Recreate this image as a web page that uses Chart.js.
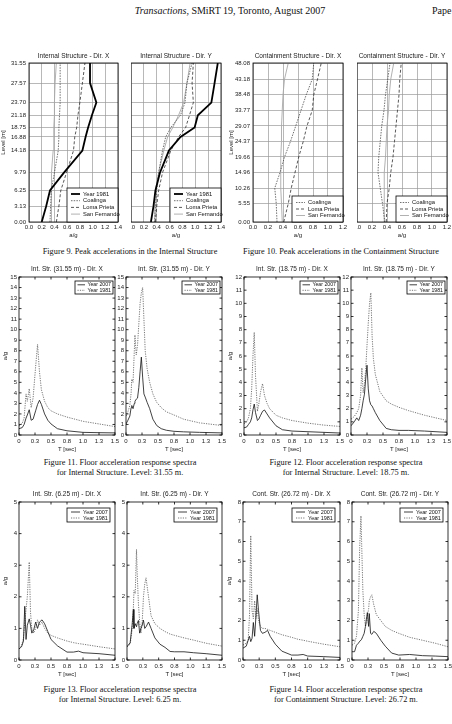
<!DOCTYPE html>
<html>
<head>
<meta charset="utf-8">
<script src="https://cdn.jsdelivr.net/npm/chart.js@4.4.1/dist/chart.umd.min.js"></script>
<style>
  html, body { margin: 0; padding: 0; background: #fff; }
  #page { position: relative; width: 452px; height: 724px; overflow: hidden; font-family: 'Liberation Serif', 'Times New Roman', serif; color: #111; }
  #page canvas { position: absolute; }
  .head { position: absolute; top: 5px; font-size: 10px; line-height: 12px; white-space: nowrap; }
  .cap { position: absolute; transform: translateX(-50%); text-align: center; font-size: 8.3px; line-height: 10px; white-space: nowrap; }
</style>
</head>
<body>
<div id="page">
  <div class="head" style="left:230px; transform:translateX(-50%);"><i>Transactions</i>, SMiRT 19, Toronto, August 2007</div>
  <div class="head" style="left:432px;">Pape</div>

  <canvas id="f9a"></canvas><canvas id="f9b"></canvas>
  <canvas id="f10a"></canvas><canvas id="f10b"></canvas>
  <div class="cap" style="left:130px; top:247px;">Figure 9. Peak accelerations in the Internal Structure</div>
  <div class="cap" style="left:341px; top:247px;">Figure 10. Peak accelerations in the Containment Structure</div>

  <canvas id="f11a"></canvas><canvas id="f11b"></canvas>
  <canvas id="f12a"></canvas><canvas id="f12b"></canvas>
  <div class="cap" style="left:120px; top:458px;">Figure 11. Floor acceleration response spectra<br>for Internal Structure. Level: 31.55 m.</div>
  <div class="cap" style="left:346px; top:458px;">Figure 12. Floor acceleration response spectra<br>for Internal Structure. Level: 18.75 m.</div>

  <canvas id="f13a"></canvas><canvas id="f13b"></canvas>
  <canvas id="f14a"></canvas><canvas id="f14b"></canvas>
  <div class="cap" style="left:120px; top:685px;">Figure 13. Floor acceleration response spectra<br>for Internal Structure. Level: 6.25 m.</div>
  <div class="cap" style="left:346px; top:685px;">Figure 14. Floor acceleration response spectra<br>for Containment Structure. Level: 26.72 m.</div>
</div>
<script>
// ---- Fig 9 / 10: peak accelerations along the height ----
var levelsInt = [0.00, 3.13, 6.25, 9.79, 14.18, 16.88, 18.75, 21.18, 23.70, 27.57, 31.55];
var levelsCont = [0.00, 5.55, 10.26, 14.96, 19.66, 24.37, 29.07, 33.77, 38.48, 43.18, 48.08];

var intX1981 = [0.20, 0.27, 0.33, 0.55, 0.84, 0.89, 0.93, 0.99, 1.06, 0.96, 0.96];
var intXCoalinga = [0.33, 0.34, 0.35, 0.40, 0.46, 0.47, 0.47, 0.48, 0.49, 0.49, 0.49];
var intXLoma = [0.43, 0.47, 0.50, 0.59, 0.70, 0.72, 0.75, 0.77, 0.80, 0.84, 0.88];
var intXSanFer = [0.35, 0.35, 0.35, 0.36, 0.38, 0.39, 0.39, 0.40, 0.40, 0.41, 0.43];

var intY1981 = [0.31, 0.35, 0.38, 0.45, 0.59, 0.77, 0.99, 1.04, 1.25, 1.30, 1.35];
var intYCoalinga = [0.37, 0.38, 0.40, 0.43, 0.49, 0.54, 0.62, 0.77, 0.84, 0.87, 0.95];
var intYLoma = [0.38, 0.40, 0.43, 0.49, 0.62, 0.74, 0.85, 0.91, 0.97, 0.95, 0.97];
var intYSanFer = [0.36, 0.37, 0.38, 0.43, 0.51, 0.57, 0.65, 0.74, 0.82, 0.87, 0.92];

var contXCoalinga = [0.32, 0.31, 0.29, 0.36, 0.42, 0.50, 0.57, 0.64, 0.71, 0.79, 0.81];
var contXLoma = [0.41, 0.47, 0.51, 0.56, 0.61, 0.67, 0.72, 0.79, 0.81, 0.86, 0.91];
var contXSanFer = [0.39, 0.38, 0.37, 0.37, 0.37, 0.38, 0.38, 0.39, 0.40, 0.42, 0.47];

var contYCoalinga = [0.37, 0.34, 0.31, 0.28, 0.29, 0.31, 0.33, 0.36, 0.38, 0.41, 0.44];
var contYLoma = [0.39, 0.40, 0.43, 0.45, 0.48, 0.50, 0.52, 0.54, 0.56, 0.57, 0.59];
var contYSanFer = [0.36, 0.36, 0.36, 0.37, 0.38, 0.39, 0.40, 0.42, 0.43, 0.45, 0.49];

// ---- Fig 11-14: floor response spectra (T [sec] -> a/g) ----
var t11x = [0, 0.05, 0.08, 0.11, 0.13, 0.16, 0.19, 0.22, 0.26, 0.29, 0.32, 0.35, 0.4, 0.45, 0.5, 0.6, 0.75, 1.0, 1.25, 1.5];
var s11x2007 = [0.6, 0.7, 1.0, 1.6, 1.9, 2.4, 1.4, 1.5, 2.3, 2.9, 3.3, 2.9, 2.0, 1.4, 1.05, 0.6, 0.4, 0.25, 0.22, 0.2];
var s11x1981 = [0.85, 1.1, 1.6, 3.9, 3.2, 4.4, 2.6, 3.5, 6.5, 8.6, 6.0, 4.3, 3.2, 2.6, 2.3, 2.0, 1.7, 1.3, 1.05, 0.8];

var t11y = [0, 0.03, 0.06, 0.08, 0.09, 0.11, 0.13, 0.14, 0.16, 0.18, 0.2, 0.22, 0.24, 0.26, 0.28, 0.3, 0.33, 0.37, 0.42, 0.48, 0.55, 0.63, 0.75, 0.9, 1.15, 1.5];
var s11y2007 = [1.05, 1.4, 1.8, 2.6, 2.8, 2.5, 3.0, 3.2, 3.4, 3.5, 4.5, 6.0, 7.4, 5.5, 3.9, 3.6, 3.1, 2.5, 1.5, 0.9, 0.6, 0.45, 0.35, 0.3, 0.25, 0.2];
var s11y1981 = [1.8, 2.2, 2.8, 4.0, 5.3, 5.0, 8.0, 9.5, 7.6, 8.5, 10.5, 12.5, 13.5, 14.0, 11.0, 8.0, 6.3, 5.0, 3.9, 3.1, 2.6, 2.2, 1.9, 1.5, 1.15, 0.9];

var t12x = [0, 0.04, 0.07, 0.1, 0.12, 0.14, 0.16, 0.18, 0.21, 0.23, 0.26, 0.29, 0.32, 0.36, 0.4, 0.5, 0.6, 0.75, 1.0, 1.25, 1.5];
var s12x2007 = [0.55, 0.6, 0.8, 1.0, 1.3, 1.9, 2.35, 1.7, 1.1, 1.2, 1.5, 1.8, 1.9, 1.6, 1.3, 0.7, 0.4, 0.3, 0.25, 0.2, 0.15];
var s12x1981 = [0.85, 1.0, 1.3, 2.0, 3.5, 6.0, 7.8, 4.5, 1.8, 2.3, 3.3, 3.9, 3.0, 2.4, 2.0, 1.5, 1.3, 1.1, 0.9, 0.75, 0.65];

var t12y = [0, 0.05, 0.09, 0.12, 0.15, 0.17, 0.19, 0.21, 0.23, 0.25, 0.27, 0.29, 0.31, 0.33, 0.35, 0.38, 0.45, 0.55, 0.63, 0.75, 0.9, 1.15, 1.5];
var s12y2007 = [0.7, 1.0, 1.3, 1.1, 1.5, 2.0, 2.6, 3.1, 4.3, 5.3, 3.5, 2.6, 2.3, 2.2, 2.0, 1.7, 1.1, 0.5, 0.4, 0.35, 0.35, 0.3, 0.2];
var s12y1981 = [1.2, 1.4, 1.7, 2.0, 3.0, 5.1, 3.2, 3.8, 5.0, 6.8, 8.5, 10.0, 10.8, 7.5, 5.8, 4.6, 3.3, 2.6, 2.35, 2.1, 1.85, 1.5, 1.1];

var t13x = [0, 0.04, 0.07, 0.09, 0.11, 0.13, 0.16, 0.18, 0.2, 0.23, 0.26, 0.29, 0.32, 0.36, 0.4, 0.45, 0.5, 0.6, 0.75, 0.85, 0.93, 1.0, 1.25, 1.5];
var s13x2007 = [0.35, 0.42, 0.6, 1.7, 0.65, 1.1, 1.3, 1.1, 0.85, 0.95, 1.2, 1.0, 1.2, 1.27, 1.15, 0.9, 0.65, 0.45, 0.25, 0.25, 0.28, 0.23, 0.2, 0.15];
var s13x1981 = [0.35, 0.45, 0.7, 1.2, 1.6, 2.0, 3.1, 1.5, 1.0, 0.85, 1.0, 1.27, 1.1, 1.2, 1.0, 0.85, 0.78, 0.7, 0.6, 0.55, 0.52, 0.5, 0.42, 0.35];

var t13y = [0, 0.05, 0.08, 0.1, 0.11, 0.13, 0.15, 0.16, 0.18, 0.2, 0.22, 0.24, 0.26, 0.28, 0.3, 0.34, 0.38, 0.44, 0.52, 0.6, 0.68, 0.75, 0.9, 1.05, 1.25, 1.5];
var s13y2007 = [0.42, 0.55, 1.1, 1.6, 1.0, 1.15, 1.05, 1.15, 1.25, 0.85, 1.0, 1.1, 1.26, 1.0, 1.05, 1.2, 1.0, 0.7, 0.5, 0.4, 0.27, 0.26, 0.26, 0.23, 0.2, 0.15];
var s13y1981 = [0.42, 0.5, 0.95, 1.6, 2.2, 2.1, 3.5, 2.8, 1.8, 1.2, 0.85, 1.2, 2.0, 2.4, 2.6, 2.0, 1.4, 1.15, 1.0, 0.9, 0.82, 0.78, 0.7, 0.63, 0.53, 0.44];

var t14x = [0, 0.05, 0.08, 0.1, 0.12, 0.14, 0.16, 0.18, 0.2, 0.22, 0.24, 0.27, 0.3, 0.34, 0.38, 0.42, 0.5, 0.6, 0.75, 0.85, 0.93, 1.0, 1.25, 1.5];
var s14x2007 = [0.6, 0.7, 1.0, 1.2, 0.93, 1.1, 1.9, 1.2, 2.2, 3.3, 2.5, 1.5, 1.35, 1.4, 1.5, 1.2, 0.8, 0.45, 0.25, 0.25, 0.28, 0.2, 0.17, 0.13];
var s14x1981 = [0.76, 0.85, 1.0, 2.2, 6.3, 2.5, 2.1, 3.0, 2.1, 2.6, 2.0, 1.7, 1.6, 1.6, 1.55, 1.5, 1.4, 1.28, 1.15, 1.05, 1.0, 0.95, 0.8, 0.67];

var t14y = [0, 0.04, 0.07, 0.1, 0.12, 0.14, 0.15, 0.17, 0.19, 0.21, 0.23, 0.24, 0.26, 0.27, 0.29, 0.31, 0.34, 0.38, 0.45, 0.52, 0.62, 0.73, 0.9, 1.1, 1.3, 1.5];
var s14y2007 = [0.42, 0.42, 0.75, 0.85, 0.95, 1.0, 1.05, 1.2, 1.35, 1.7, 2.2, 2.4, 1.7, 2.35, 1.35, 1.3, 1.45, 1.35, 1.0, 0.7, 0.35, 0.25, 0.28, 0.22, 0.2, 0.17];
var s14y1981 = [0.75, 0.85, 1.2, 2.5, 5.7, 7.3, 6.0, 3.5, 2.3, 1.7, 1.9, 2.2, 2.6, 3.0, 3.2, 3.3, 2.8, 2.3, 2.0, 1.7, 1.5, 1.35, 1.15, 1.0, 0.85, 0.67];

Chart.defaults.font.family = "'Liberation Sans', Arial, sans-serif";
Chart.defaults.font.size = 6;
Chart.defaults.color = '#222';
Chart.defaults.animation = false;
Chart.defaults.events = [];
Chart.defaults.plugins.legend.display = false;
Chart.defaults.plugins.tooltip.enabled = false;

var lineStyle = {
    'Year 1981': { borderColor: '#000', borderWidth: 1.8, borderDash: [] },
    'Coalinga': { borderColor: '#333', borderWidth: 0.7, borderDash: [1.5, 1.2] },
    'Loma Prieta': { borderColor: '#111', borderWidth: 0.7, borderDash: [3, 2] },
    'San Fernando': { borderColor: '#a8a8a8', borderWidth: 0.9, borderDash: [] },
};

// frame around the plot, inner ticks and the boxed legend inside the plot
var frame = {
    id: 'frame',
    afterDatasetsDraw: function (chart, args, opts) {
        var ctx = chart.ctx, a = chart.chartArea, sx = chart.scales.x, sy = chart.scales.y;
        ctx.save();
        ctx.strokeStyle = '#000';
        ctx.lineWidth = 0.8;
        if (opts.ticks) {
            ctx.beginPath();
            sx.ticks.forEach(function (t) {
                var px = sx.getPixelForValue(t.value);
                ctx.moveTo(px, a.bottom); ctx.lineTo(px, a.bottom - 2.5);
                ctx.moveTo(px, a.top); ctx.lineTo(px, a.top + 2.5);
            });
            sy.ticks.forEach(function (t) {
                var py = sy.getPixelForValue(t.value);
                ctx.moveTo(a.left, py); ctx.lineTo(a.left + 2.5, py);
                ctx.moveTo(a.right, py); ctx.lineTo(a.right - 2.5, py);
            });
            ctx.stroke();
        }
        ctx.strokeRect(a.left, a.top, a.right - a.left, a.bottom - a.top);

        var leg = opts.legend;
        if (leg) {
            var x0 = a.right - leg.dx - leg.w;
            var y0 = leg.top ? a.top + leg.dy : a.bottom - leg.dy - leg.h;
            ctx.fillStyle = '#fff';
            ctx.fillRect(x0, y0, leg.w, leg.h);
            ctx.strokeRect(x0, y0, leg.w, leg.h);
            ctx.font = leg.size + "px 'Liberation Sans', Arial, sans-serif";
            ctx.textBaseline = 'middle';
            chart.data.datasets.forEach(function (d, i) {
                var y = y0 + leg.first + i * leg.step;
                ctx.save();
                ctx.strokeStyle = d.borderColor;
                ctx.lineWidth = d.borderWidth;
                ctx.setLineDash(d.borderDash || []);
                ctx.beginPath();
                ctx.moveTo(x0 + leg.l0, y);
                ctx.lineTo(x0 + leg.l1, y);
                ctx.stroke();
                ctx.restore();
                ctx.fillStyle = '#111';
                ctx.fillText(d.label, x0 + leg.tx, y);
            });
        }
        ctx.restore();
    }
};

// area = plot box [left, top, right, bottom], m = margins [top, right, bottom, left]
function place(id, area, m) {
    var c = document.getElementById(id);
    var w = area[2] - area[0] + m[1] + m[3];
    var h = area[3] - area[1] + m[0] + m[2];
    c.width = w;
    c.height = h;
    c.style.left = (area[0] - m[3]) + 'px';
    c.style.top = (area[1] - m[0]) + 'px';
    c.style.width = w + 'px';
    c.style.height = h + 'px';
    return c;
}

function fixBox(s, size, horizontal) {
    if (horizontal) s.height = size; else s.width = size;
    s.paddingLeft = 0; s.paddingRight = 0; s.paddingTop = 0; s.paddingBottom = 0;
}

function titleOpts(text, m, gap) {
    var size = 6.5;
    var bottom = gap - size / 2;
    return {
        display: true, text: text, color: '#222', fullSize: false,
        font: { size: size, weight: 'normal', lineHeight: 1 },
        padding: { top: m[0] - size - bottom, bottom: bottom }
    };
}

function peakChart(id, area, m, title, levels, xMax, series, showLevels, legend) {
    var canvas = place(id, area, m);
    return new Chart(canvas, {
        type: 'scatter',
        data: {
            datasets: series.map(function (s) {
                return Object.assign({
                    label: s[0],
                    data: s[1].map(function (v, i) { return { x: v, y: levels[i] }; }),
                    showLine: true,
                    pointRadius: 0,
                }, lineStyle[s[0]]);
            })
        },
        options: {
            responsive: false,
            layout: { padding: { top: 0, right: m[1], bottom: 0, left: 0 } },
            plugins: {
                title: titleOpts(title, m, 6.5),
                frame: { legend: legend }
            },
            scales: {
                x: {
                    min: 0, max: xMax,
                    ticks: { stepSize: 0.2, padding: 2, maxRotation: 0, minRotation: 0, autoSkip: false,
                        callback: function (v) { return v.toFixed(1); } },
                    grid: { color: '#9a9a9a', lineWidth: 0.7, drawTicks: false },
                    border: { display: false },
                    title: { display: true, text: 'a/g', padding: 0, font: { size: 6 } },
                    afterFit: function (s) { fixBox(s, m[2], true); }
                },
                y: {
                    min: 0, max: levels[levels.length - 1],
                    afterBuildTicks: function (s) { s.ticks = levels.map(function (v) { return { value: v }; }); },
                    ticks: { display: showLevels, padding: 3, autoSkip: false,
                        callback: function (v) { return v.toFixed(2); } },
                    grid: { color: '#9a9a9a', lineWidth: 0.7, drawTicks: false },
                    border: { display: false },
                    title: { display: showLevels, text: 'Level [m]', padding: 0, font: { size: 6 } },
                    afterFit: function (s) { fixBox(s, m[3], false); }
                }
            }
        },
        plugins: [frame]
    });
}

function spectraChart(id, area, m, title, periods, y2007, y1981, yMax, showYTitle, legend) {
    var canvas = place(id, area, m);
    return new Chart(canvas, {
        type: 'scatter',
        data: {
            datasets: [
                {
                    label: 'Year 2007',
                    data: periods.map(function (t, i) { return { x: t, y: y2007[i] }; }),
                    showLine: true, pointRadius: 0,
                    borderColor: '#111', borderWidth: 0.8, borderDash: []
                },
                {
                    label: 'Year 1981',
                    data: periods.map(function (t, i) { return { x: t, y: y1981[i] }; }),
                    showLine: true, pointRadius: 0,
                    borderColor: '#555', borderWidth: 0.8, borderDash: [1.2, 1.2]
                }
            ]
        },
        options: {
            responsive: false,
            layout: { padding: { top: 0, right: m[1], bottom: 0, left: 0 } },
            plugins: {
                title: titleOpts(title, m, 8),
                frame: { ticks: true, legend: legend }
            },
            scales: {
                x: {
                    min: 0, max: 1.5,
                    ticks: { stepSize: 0.25, padding: 3, maxRotation: 0, minRotation: 0, autoSkip: false },
                    grid: { display: false, drawTicks: false },
                    border: { display: false },
                    title: { display: true, text: 'T [sec]', padding: { top: 0, bottom: 1 }, font: { size: 6 } },
                    afterFit: function (s) { fixBox(s, m[2], true); }
                },
                y: {
                    min: 0, max: yMax,
                    ticks: { stepSize: 1, padding: 2, autoSkip: false },
                    grid: { display: false, drawTicks: false },
                    border: { display: false },
                    title: { display: showYTitle, text: 'a/g', padding: { top: 2, bottom: 0 }, font: { size: 6 } },
                    afterFit: function (s) { fixBox(s, m[3], false); }
                }
            }
        },
        plugins: [frame]
    });
}

var legPeak4 = { top: false, dx: 0, dy: 0, w: 51, h: 34, first: 6, step: 6.7, l0: 4, l1: 13, tx: 16, size: 5.8 };
var legPeak3 = { top: false, dx: 0, dy: 0, w: 51, h: 26, first: 6.5, step: 6.5, l0: 4, l1: 13, tx: 16, size: 5.8 };
var legSpec = { top: true, dx: 2, dy: 4, w: 38, h: 13, first: 3.8, step: 5.5, l0: 2.5, l1: 10, tx: 12.5, size: 5.2 };
var legSpecB = { top: true, dx: 5, dy: 6, w: 43, h: 14, first: 4, step: 6, l0: 4, l1: 13, tx: 16, size: 5.5 };

peakChart('f9a', [29, 63, 118, 222], [14, 6, 17, 29], 'Internal Structure - Dir. X', levelsInt, 1.4,
    [['Year 1981', intX1981], ['Coalinga', intXCoalinga], ['Loma Prieta', intXLoma], ['San Fernando', intXSanFer]], true, legPeak4);
peakChart('f9b', [131, 63, 221, 222], [14, 6, 17, 0], 'Internal Structure - Dir. Y', levelsInt, 1.4,
    [['Year 1981', intY1981], ['Coalinga', intYCoalinga], ['Loma Prieta', intYLoma], ['San Fernando', intYSanFer]], false, legPeak4);
peakChart('f10a', [253, 63, 343, 222], [14, 6, 17, 25], 'Containment Structure - Dir. X', levelsCont, 1.2,
    [['Coalinga', contXCoalinga], ['Loma Prieta', contXLoma], ['San Fernando', contXSanFer]], true, legPeak3);
peakChart('f10b', [357, 63, 447, 222], [14, 5, 17, 0], 'Containment Structure - Dir. Y', levelsCont, 1.2,
    [['Coalinga', contYCoalinga], ['Loma Prieta', contYLoma], ['San Fernando', contYSanFer]], false, legPeak3);

spectraChart('f11a', [19, 277, 115, 435], [14, 5, 19, 19], 'Int. Str. (31.55 m) - Dir. X', t11x, s11x2007, s11x1981, 15, true, legSpec);
spectraChart('f11b', [126, 277, 222, 435], [14, 5, 19, 10], 'Int. Str. (31.55 m) - Dir. Y', t11y, s11y2007, s11y1981, 15, false, legSpec);
spectraChart('f12a', [244, 277, 340, 435], [14, 5, 19, 19], 'Int. Str. (18.75 m) - Dir. X', t12x, s12x2007, s12x1981, 12, true, legSpec);
spectraChart('f12b', [351, 277, 447, 435], [14, 5, 19, 10], 'Int. Str. (18.75 m) - Dir. Y', t12y, s12y2007, s12y1981, 12, false, legSpec);

spectraChart('f13a', [19, 502, 115, 660], [14, 5, 19, 19], 'Int. Str. (6.25 m) - Dir. X', t13x, s13x2007, s13x1981, 5, true, legSpecB);
spectraChart('f13b', [127, 502, 222, 660], [14, 5, 19, 10], 'Int. Str. (6.25 m) - Dir. Y', t13y, s13y2007, s13y1981, 5, false, legSpecB);
spectraChart('f14a', [243, 502, 340, 660], [14, 5, 19, 19], 'Cont. Str. (26.72 m) - Dir. X', t14x, s14x2007, s14x1981, 8, true, legSpecB);
spectraChart('f14b', [352, 502, 448, 660], [14, 4, 19, 10], 'Cont. Str. (26.72 m) - Dir. Y', t14y, s14y2007, s14y1981, 8, false, legSpecB);
</script>
</body>
</html>
